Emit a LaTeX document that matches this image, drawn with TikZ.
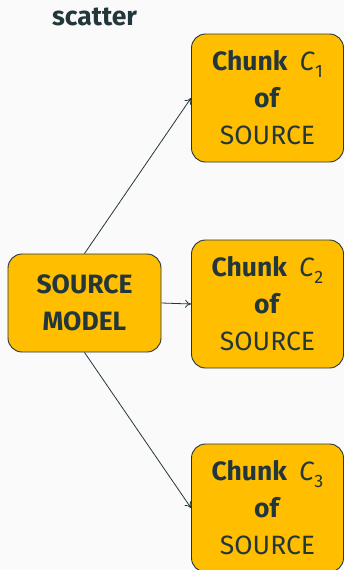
\documentclass[tikz,border=0pt]{standalone}
\usepackage{fontspec}
\setmainfont{Fira Sans}
\usetikzlibrary{arrows.meta}
\definecolor{ink}{HTML}{23373B}
\definecolor{amber}{HTML}{FFBE00}
\definecolor{paper}{HTML}{FAFAFA}
\newcommand{\chunklabel}[1]{\textbf{Chunk}\hspace{0.45em}\textit{C}\raisebox{-0.25em}{\fontsize{18}{18}\selectfont #1}}
\tikzset{
  block/.style={draw=ink, line width=0.9pt, fill=amber, rounded corners=14pt,
    text=ink, align=center, font=\fontsize{26.5}{37}\selectfont, inner sep=0pt},
  link/.style={draw=ink, line width=0.8pt, -{To[length=6pt,width=8pt]}}
}
\begin{document}
\begin{tikzpicture}[x=1pt,y=-1pt]
  \fill[paper] (0,0) rectangle (344,570);
  \useasboundingbox (0,0) rectangle (344,570);
  \node[text=ink, font=\fontsize{26.5}{26.5}\selectfont\bfseries, anchor=base] (title) at (94.5,25) {scatter};
  \node[block, minimum width=153pt, minimum height=98pt] (src) at (84.5,303)
    {\textbf{SOURCE}\\\textbf{MODEL}};
  \node[block, minimum width=152pt, minimum height=128pt] (c1) at (267.5,98)
    {\chunklabel{1}\\\textbf{of}\\SOURCE};
  \node[block, minimum width=152pt, minimum height=128pt] (c2) at (267.5,304)
    {\chunklabel{2}\\\textbf{of}\\SOURCE};
  \node[block, minimum width=152pt, minimum height=128pt] (c3) at (267.5,508)
    {\chunklabel{3}\\\textbf{of}\\SOURCE};
  \draw[link] (src.north) -- (c1.west);
  \draw[link] (src.east) -- (c2.west);
  \draw[link] (src.south) -- (c3.west);
\end{tikzpicture}
\end{document}
